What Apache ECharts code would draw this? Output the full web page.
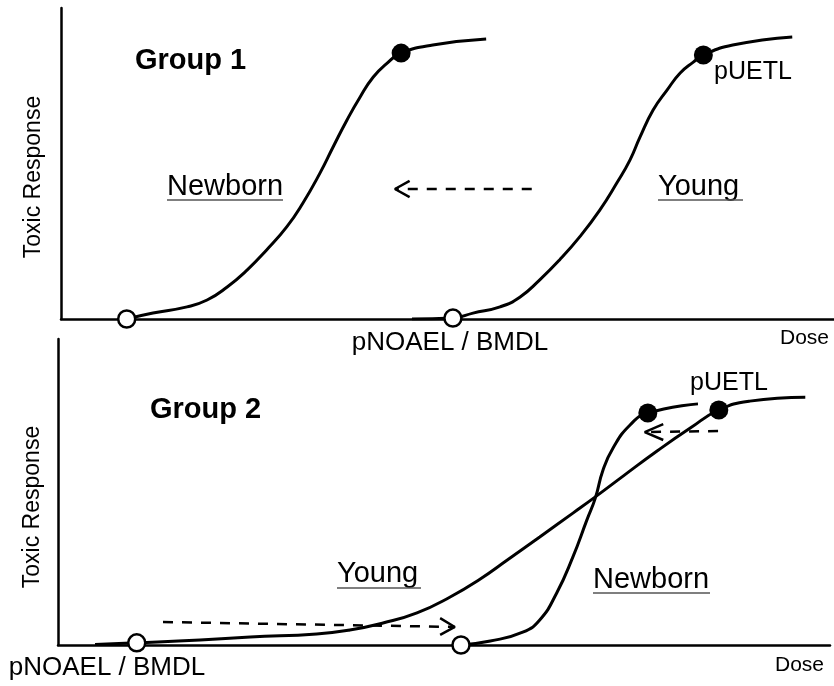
<!DOCTYPE html>
<html><head><meta charset="utf-8">
<script src="https://cdn.jsdelivr.net/npm/echarts@6/dist/echarts.min.js"></script>
<style>html,body{margin:0;padding:0;background:#fff}#c{width:834px;height:686px}</style>
</head><body><div id="c"></div>
<script>
// ---- Data (dose 0-100, response 0-100, schematic units) ----
// Group 1
const g1Newborn = [[8.5,0],[11.9,1.9],[16.3,3.9],[18.9,6.1],[21.5,10.3],[24.1,15.8],[26.6,22.2],[29.2,29.6],[31.3,37.3],[33.5,46.9],[35.2,55.3],[37.0,64.0],[38.7,71.4],[40.4,77.8],[42.2,82.3],[44.0,85.5],[48.1,88.1],[55.0,90.0]];
const g1Young = [[45.4,0],[50.7,0.3],[53.3,1.9],[56.8,3.9],[59.4,7.1],[61.9,12.5],[64.5,19.0],[67.1,26.4],[69.7,35.0],[71.9,43.7],[73.6,51.1],[74.9,58.5],[76.6,67.2],[78.4,73.6],[80.1,79.1],[81.8,82.6],[83.1,84.9],[86.9,88.1],[94.6,90.7]];
const g1Open = [[8.5,0],[50.7,0.3]];
const g1Filled = [[44.0,85.5],[83.1,84.9]];
const g1Arrow = [[60.9,41.8],[43.2,41.8]];
const g1ArrowHead = [[45.1,44.4],[43.2,41.8],[45.1,39.2]];
// Group 2
const g2Young = [[4.8,0.2],[10.2,0.7],[18.4,1.6],[24.9,2.6],[33.5,3.6],[37.8,4.9],[42.1,7.2],[46.5,10.5],[50.8,15.7],[54.7,21.6],[58.2,27.8],[62.4,35.3],[66.7,43.1],[69.6,48.4],[73.2,55.2],[77.6,63.4],[81.9,70.9],[85.6,76.8],[89.6,79.7],[96.8,81.0]];
const g2Newborn = [[52.2,0],[56.0,1.3],[60.2,4.2],[62.4,8.2],[64.6,17.0],[66.7,28.8],[68.5,40.8],[69.6,48.0],[70.6,57.2],[71.9,64.4],[74.1,71.9],[76.4,75.8],[82.9,78.8]];
const g2Open = [[10.2,0.7],[52.2,0]];
const g2Filled = [[76.4,75.8],[85.6,76.8]];
const g2ArrowR = [[13.6,7.5],[51.4,5.9]];
const g2ArrowRHead = [[49.5,8.8],[51.4,5.9],[49.5,3.3]];
const g2ArrowL = [[85.5,69.9],[76.0,69.6]];
const g2ArrowLHead = [[78.4,72.2],[76.0,69.6],[78.4,67.0]];

const FONT = "'Liberation Sans', Arial, Helvetica, sans-serif";
const chart = echarts.init(document.getElementById('c'), null, {renderer:'canvas'});

function axis(idx) {
  return {
    type:'value', gridIndex: idx, min:0, max:100,
    axisLine:{show:true, onZero:false, lineStyle:{color:'#000', width:2.5}},
    axisTick:{show:false}, axisLabel:{show:false}, splitLine:{show:false}
  };
}
function curve(data, gi) {
  return {type:'line', xAxisIndex:gi, yAxisIndex:gi, data, symbol:'none', smooth:0.5,
    lineStyle:{color:'#000', width:3}, z:2, silent:true};
}
function dashed(data, gi) {
  return {type:'line', xAxisIndex:gi, yAxisIndex:gi, data, symbol:'none',
    lineStyle:{color:'#000', width:2.5, type:[10,9]}, z:2, silent:true};
}
function head(data, gi) {
  return {type:'line', xAxisIndex:gi, yAxisIndex:gi, data, symbol:'none',
    lineStyle:{color:'#000', width:2.5}, z:2, silent:true};
}
function openPts(data, gi) {
  return {type:'scatter', xAxisIndex:gi, yAxisIndex:gi, data, symbolSize:17,
    itemStyle:{color:'#fff', borderColor:'#000', borderWidth:2.5, opacity:1}, z:5, silent:true};
}
function filledPts(data, gi) {
  return {type:'scatter', xAxisIndex:gi, yAxisIndex:gi, data, symbolSize:19,
    itemStyle:{color:'#000', opacity:1}, z:5, silent:true};
}
function txt(x, y, text, size, opts) {
  opts = opts || {};
  return {type:'text', x, y, rotation: opts.rotation || 0, z:10,
    style:{text, font:(opts.bold?'bold ':'') + size + 'px ' + FONT, fill:'#000',
      align: opts.align || 'left', textAlign: opts.align || 'left',
      verticalAlign:'middle', textVerticalAlign:'middle'}};
}
function uline(x1, x2, y) {
  return {type:'line', z:10, shape:{x1, y1:y, x2, y2:y}, style:{stroke:'#555', lineWidth:1.5}};
}

chart.setOption({
  animation:false,
  backgroundColor:'#fff',
  grid:[
    {left:61, top:8, right:0, bottom:367},
    {left:58, top:339, right:4, bottom:41}
  ],
  xAxis:[axis(0), axis(1)],
  yAxis:[axis(0), axis(1)],
  series:[
    curve(g1Newborn,0), curve(g1Young,0),
    dashed(g1Arrow,0), head(g1ArrowHead,0),
    openPts(g1Open,0), filledPts(g1Filled,0),
    curve(g2Young,1), curve(g2Newborn,1),
    dashed(g2ArrowR,1), head(g2ArrowRHead,1),
    dashed(g2ArrowL,1), head(g2ArrowLHead,1),
    openPts(g2Open,1), filledPts(g2Filled,1)
  ],
  graphic:[
    txt(135, 61, 'Group 1', 29, {bold:true}),
    txt(167, 187, 'Newborn', 29), uline(167, 283, 200),
    txt(658, 187, 'Young', 29), uline(658, 743, 200),
    txt(714, 72, 'pUETL', 25),
    txt(450, 343, 'pNOAEL / BMDL', 26, {align:'center'}),
    txt(780, 338, 'Dose', 21),
    txt(34, 177, 'Toxic Response', 23, {align:'center', rotation:Math.PI/2}),
    txt(150, 410, 'Group 2', 29, {bold:true}),
    txt(337, 574, 'Young', 29), uline(337, 421, 588),
    txt(593, 580, 'Newborn', 29), uline(593, 710, 593),
    txt(690, 383, 'pUETL', 25),
    txt(775, 665, 'Dose', 21),
    txt(107, 668, 'pNOAEL / BMDL', 26, {align:'center'}),
    txt(33, 507, 'Toxic Response', 23, {align:'center', rotation:Math.PI/2})
  ]
});
</script></body></html>
